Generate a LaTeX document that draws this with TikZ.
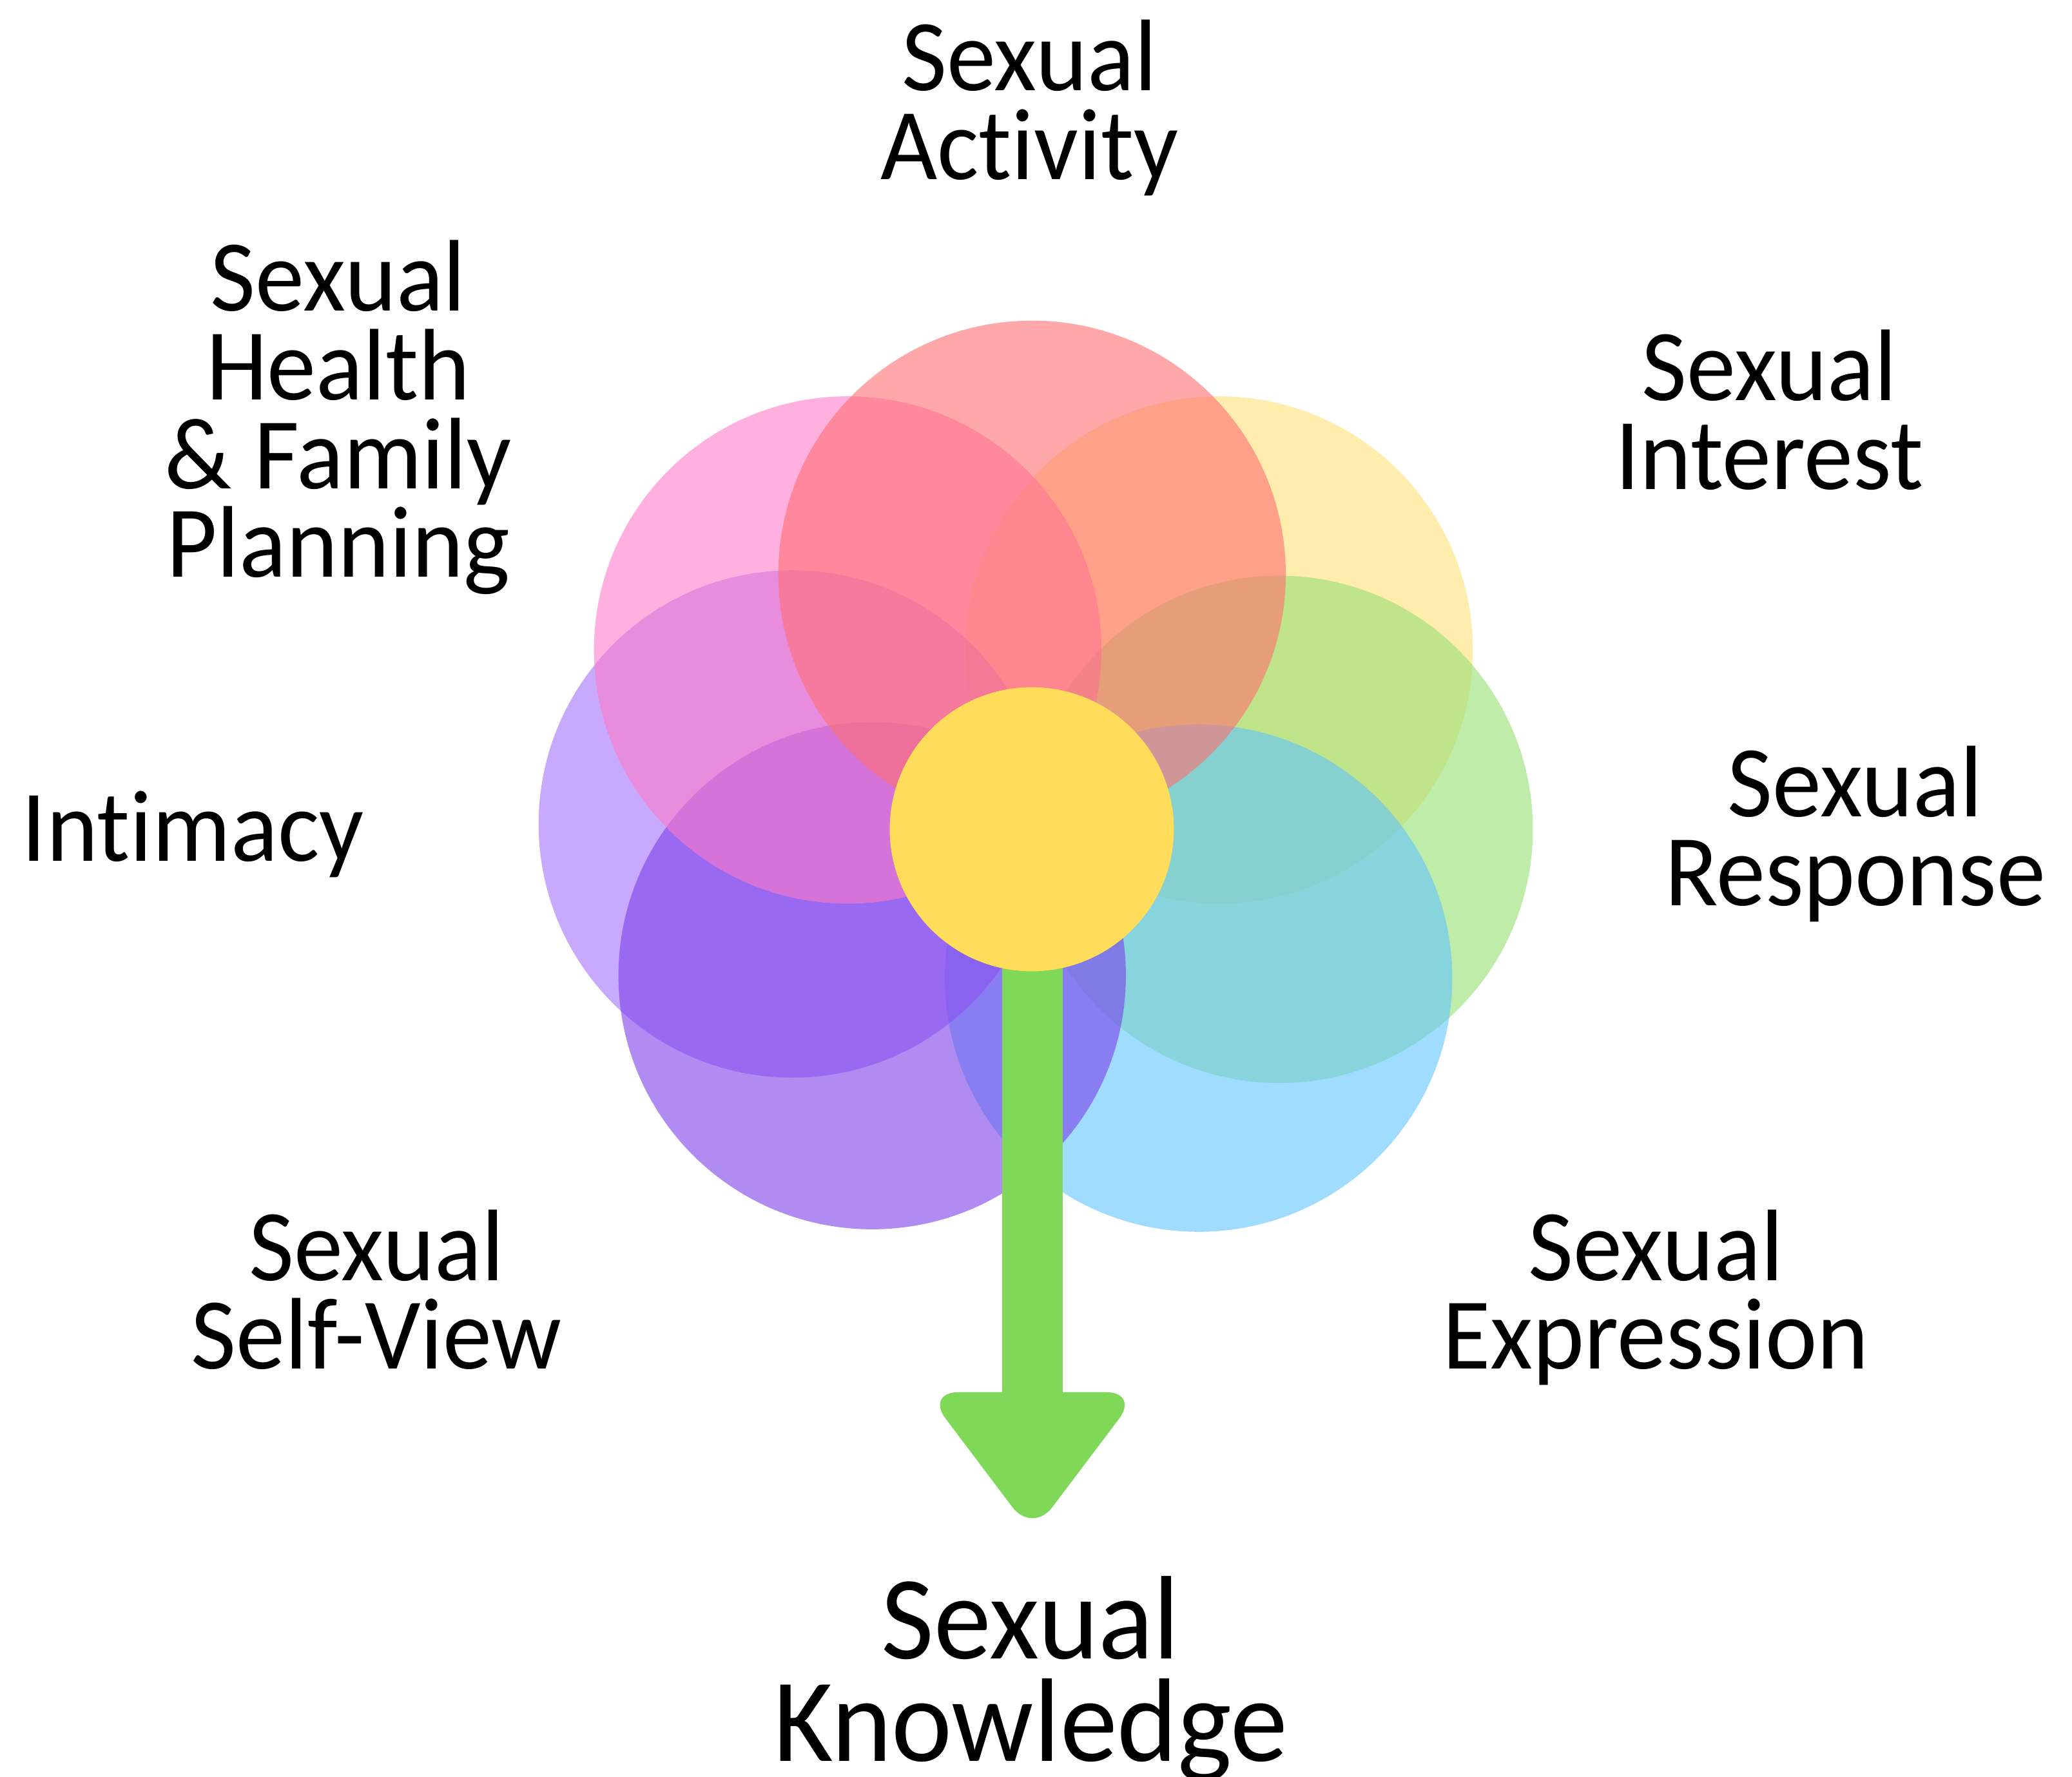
\documentclass[tikz,border=0pt]{standalone}
\usepackage{fontspec}
\setmainfont[FakeStretch=0.965,Ligatures=NoCommon]{Carlito}
\definecolor{ctop}{RGB}{255,110,113}
\definecolor{cpink}{RGB}{255,123,202}
\definecolor{cyel}{RGB}{255,225,120}
\definecolor{clav}{RGB}{162,112,252}
\definecolor{cgreen}{RGB}{150,223,113}
\definecolor{cpurple}{RGB}{122,62,233}
\definecolor{cblue}{RGB}{97,197,255}
\definecolor{ccenter}{RGB}{255,220,90}
\definecolor{carrow}{RGB}{128,216,88}
\newcommand{\lblfont}{\fontsize{77}{67.1}\selectfont\lineskiplimit=-200pt\relax}
\newcommand{\biglblfont}{\fontsize{90}{77.7}\selectfont\lineskiplimit=-200pt\relax}
\newcommand{\firststrut}{\rule{0pt}{60pt}}
\newcommand{\tallstrut}{\rule{0pt}{70pt}}
\tikzset{
  petal/.style={fill=#1, opacity=0.6},
  lbl/.style={anchor=north, inner sep=0pt, align=center, font=\lblfont},
  biglbl/.style={anchor=north, inner sep=0pt, align=center, font=\biglblfont},
}
\begin{document}
\begin{tikzpicture}[x=1pt,y=-1pt]
\useasboundingbox (0,0) rectangle (1568,1345.1);
% petals
\fill[petal=cyel]    (922.6,492)   circle[radius=192pt];
\fill[petal=cgreen]  (968,627.8)   circle[radius=192pt];
\fill[petal=cblue]   (907,740.4)   circle[radius=192pt];
\fill[petal=clav]    (599.6,623.7) circle[radius=192pt];
\fill[petal=cpurple] (660,738.5)   circle[radius=192pt];
\fill[petal=cpink]   (641.5,492)   circle[radius=192pt];
\fill[petal=ctop]    (781,434.7)   circle[radius=192pt];
% arrow
\fill[carrow] (758.4,627) rectangle (804.1,1060);
\fill[carrow, rounded corners=25pt] (700.5,1053.8) -- (781.25,1160.9) -- (862,1053.8) -- cycle;
% center
\fill[ccenter] (780.8,627.7) circle[radius=107.5pt];
% labels
\node[lbl] (activity)   at (779,8.5)    {\firststrut Sexual\\Activity};
\node[lbl] (health)     at (256,175.3)  {\firststrut Sexual\\Health\\\& Family\\Planning};
\node[lbl] (interest)   at (1339,242.9) {\firststrut Sexual\\Interest};
\node[lbl] (intimacy)   at (146,591.8)  {\firststrut Intimacy};
\node[lbl] (response)   at (1404,558.2) {\firststrut Sexual\\Response};
\node[lbl] (selfview)   at (285,908.9)  {\firststrut Sexual\\Self-View};
\node[lbl] (expression) at (1253,908.9) {\firststrut Sexual\\Expression};
\node[biglbl] (knowledge) at (780,1185.2) {\tallstrut Sexual\\Knowledge};
\end{tikzpicture}
\end{document}
